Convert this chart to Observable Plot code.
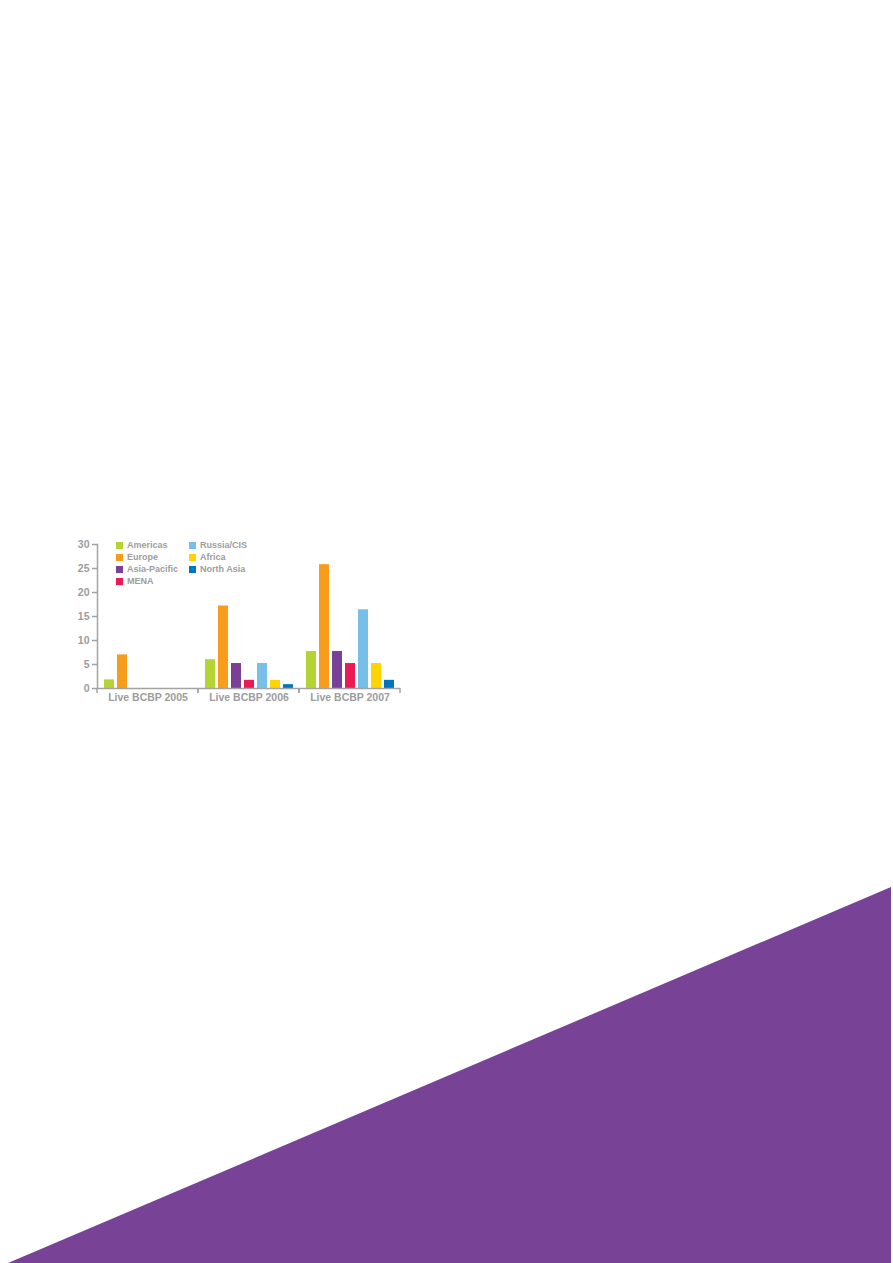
<!DOCTYPE html>
<html>
<head>
<meta charset="utf-8">
<script src="https://cdn.jsdelivr.net/npm/d3@7"></script>
<script src="https://cdn.jsdelivr.net/npm/@observablehq/plot@0.6"></script>
<style>
  html, body { margin: 0; padding: 0; background: #fff; }
  body { width: 893px; height: 1263px; position: relative; overflow: hidden; font-family: "Liberation Sans", Arial, sans-serif; }
  #chart { position: absolute; left: 0; top: 0; }
  #legend { position: absolute; left: 116px; top: 539px; display: grid; grid-template-columns: 73px 80px; row-gap: 0; }
  .item { display: flex; align-items: center; height: 12px; font-size: 9px; font-weight: bold; color: #9d9d9d; white-space: nowrap; }
  .sw { width: 7px; height: 7px; margin-right: 4px; flex: none; }
  #tri { position: absolute; left: 0; top: 0; width: 893px; height: 1263px; background: #784397;
         clip-path: polygon(8px 1263px, 891px 887px, 891px 1263px); }
</style>
</head>
<body>
<div id="tri"></div>
<div id="chart"></div>
<div id="legend"></div>
<script>
const years = ["Live BCBP 2005", "Live BCBP 2006", "Live BCBP 2007"];
const regions = ["Americas", "Europe", "Asia-Pacific", "MENA", "Russia/CIS", "Africa", "North Asia"];
const colors = ["#b4d334", "#f89c1c", "#7a3f97", "#ec1a52", "#77bee9", "#ffd400", "#0075bf"];
const yTicks = [0, 5, 10, 15, 20, 25, 30];
const values2005 = [1.8, 7.0, 0, 0, 0, 0, 0];
const values2006 = [6.0, 17.2, 5.2, 1.7, 5.2, 1.7, 0.8];
const values2007 = [7.7, 25.8, 7.7, 5.2, 16.4, 5.2, 1.7];

const series = [values2005, values2006, values2007];
const data = [];
years.forEach((yr, i) => regions.forEach((r, j) => data.push({year: yr, region: r, value: series[i][j]})));

const axisGray = "#a3a3a3";

// boundary ticks of each category group, drawn from the x scale's range
function groupTicks(index, scales) {
  const g = d3.create("svg:g");
  const x = scales.x, y = scales.y;
  let r;
  if (x && typeof x.range === "function") r = x.range();
  if (!r) return g.node();
  const y0 = y(0);
  for (const xv of r) {
    g.append("line").attr("x1", xv).attr("x2", xv).attr("y1", y0).attr("y2", y0 + 5)
      .attr("stroke", axisGray).attr("stroke-width", 1.5);
  }
  return g.node();
}

const chart = Plot.plot({
  width: 893,
  height: 720,
  marginLeft: 96,
  marginRight: 493,
  marginTop: 544,
  marginBottom: 32,
  style: {fontFamily: "'Liberation Sans', Arial, sans-serif", fontWeight: "bold", fontSize: "10.5px", color: "#9d9d9d", background: "transparent"},
  fx: {domain: years, padding: 0, label: null, axis: null},
  x: {domain: regions, paddingInner: 0.2, paddingOuter: 0.44, align: 0.55, axis: null},
  y: {domain: [0, 30], axis: null},
  color: {domain: regions, range: colors},
  marks: [
    Plot.barY(data, {fx: "year", x: "region", y: "value", fill: "region"}),
    Plot.ruleY([0], {stroke: axisGray, strokeWidth: 1.5}),
    Plot.axisY({ticks: yTicks, tickSize: 5, tickPadding: 3, label: null, stroke: axisGray, strokeWidth: 1.5, fontSize: 10.5}),
    Plot.frame({anchor: "left", stroke: axisGray, strokeWidth: 1.5, facetAnchor: "left"}),
    Plot.axisFx({anchor: "bottom", tickSize: 0, tickPadding: 5, label: null, fontSize: 10.5}),
    groupTicks
  ]
});
document.getElementById("chart").appendChild(chart);

const legendOrder = [0, 4, 1, 5, 2, 6, 3];
const legend = document.getElementById("legend");
for (const k of legendOrder) {
  const item = document.createElement("div");
  item.className = "item";
  const sw = document.createElement("span");
  sw.className = "sw";
  sw.style.background = colors[k];
  item.appendChild(sw);
  item.appendChild(document.createTextNode(regions[k]));
  legend.appendChild(item);
}
</script>
</body>
</html>
